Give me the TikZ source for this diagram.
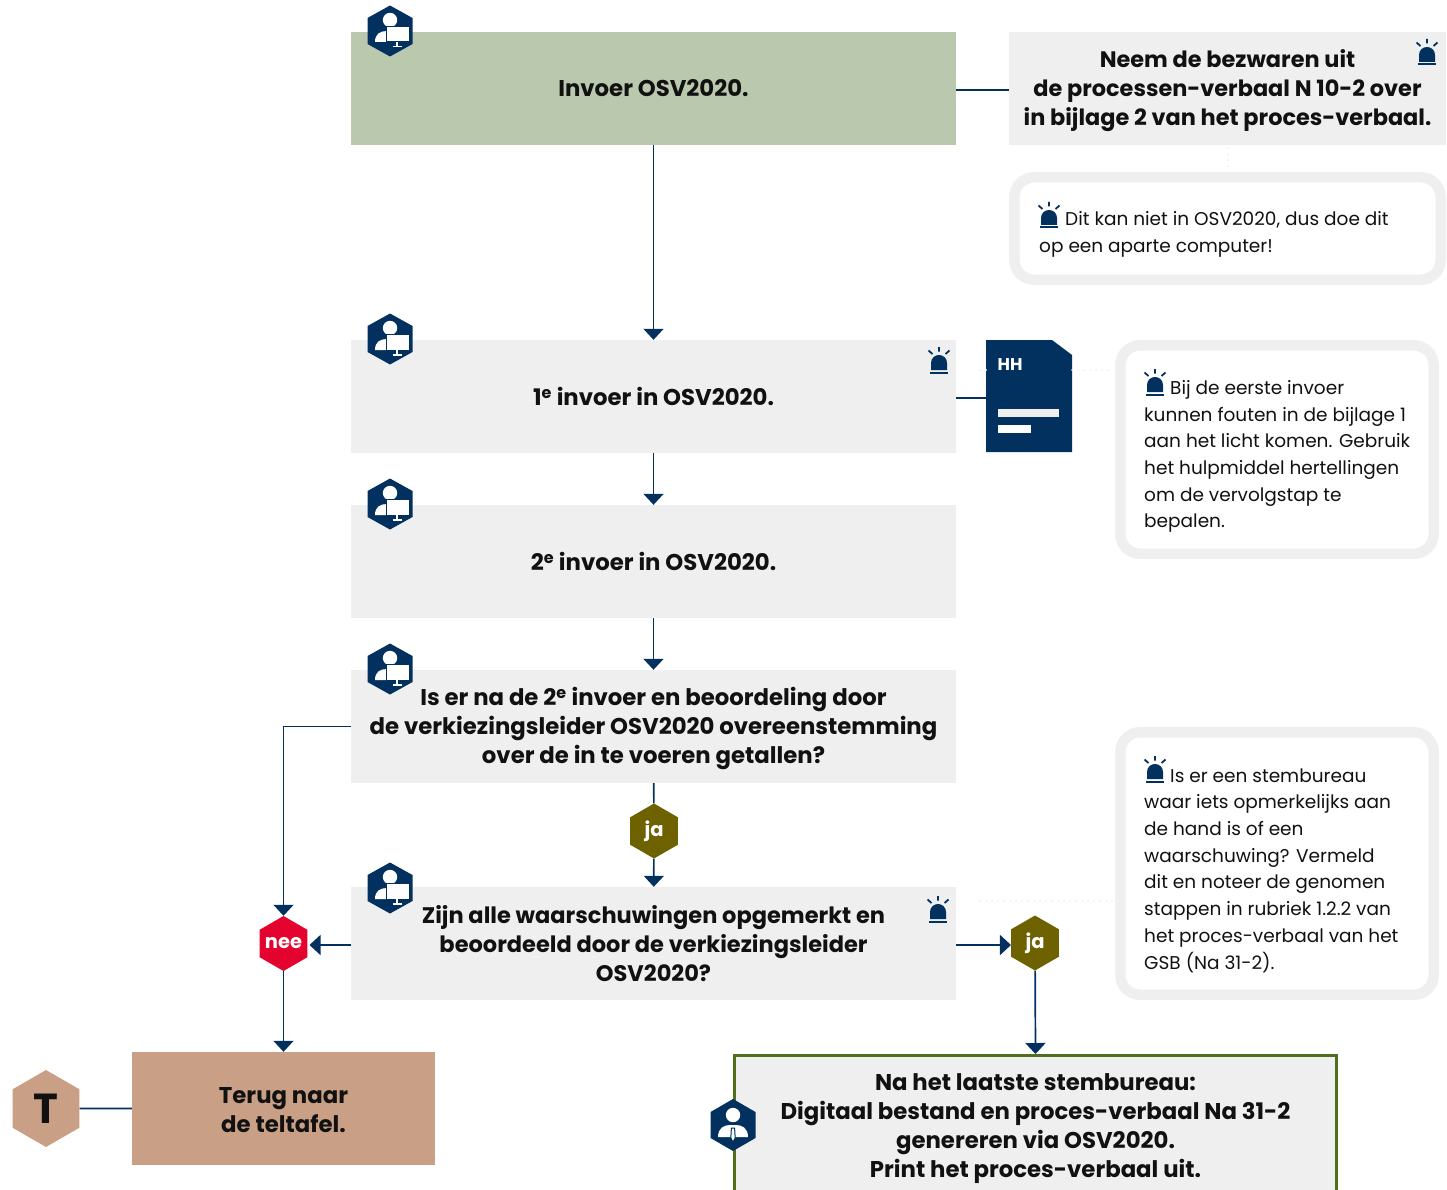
\documentclass[tikz,border=0pt]{standalone}
\usepackage{fontspec}
\usetikzlibrary{arrows.meta,shapes.geometric}
\setmainfont{Poppins}
\definecolor{navy}{HTML}{02315F}
\definecolor{panel}{HTML}{EFEFEF}
\definecolor{sage}{HTML}{BAC8AE}
\definecolor{tan}{HTML}{C99F85}
\definecolor{olive}{HTML}{6E6200}
\definecolor{redhex}{HTML}{E4032E}
\definecolor{greenedge}{HTML}{4F6F1F}
\definecolor{ink}{HTML}{111111}
\newcommand{\firstline}[1]{\rule{0pt}{#1pt}}
\tikzset{
 x=1pt,y=-1pt,
 flowbox/.style={rectangle,fill=panel,inner sep=0pt,minimum width=605pt,minimum height=113pt,align=center,text=ink,font=\fontsize{22.8}{29}\selectfont\bfseries},
 callout/.style={rectangle,draw=panel,fill=white,line width=10.5pt,rounded corners=20pt,inner sep=0pt},
 notetext/.style={anchor=west,align=left,inner sep=0pt,text=ink,font=\fontsize{18.5}{26.7}\selectfont},
 flow/.style={draw=navy,line width=1.7pt,-{Triangle[width=20pt,length=11pt]}},
 link/.style={draw=navy,line width=1.7pt},
 dots/.style={draw=panel,line width=2pt,line cap=round,dash pattern=on 0pt off 6pt},
 hex/.style={regular polygon,regular polygon sides=6,shape border rotate=30,inner sep=0pt,minimum size=55pt,text=white,font=\fontsize{19.5}{22}\selectfont\bfseries},
 personpc/.pic={
  \fill[navy] (0,-25.5)--(22.5,-13)--(22.5,13)--(0,25.5)--(-22.5,13)--(-22.5,-13)--cycle;
  \fill[white] (0,-11) circle (7.2);
  \fill[white] (-15,11) .. controls (-15,3) and (-10,0) .. (-3,0) -- (6,0) -- (6,11) -- cycle;
  \fill[white,draw=navy,line width=1pt] (-4,-4.5) rectangle (19,11);
  \fill[white] (6,11) rectangle (8,15);
  \fill[white] (3,15) rectangle (12,16.5);
 },
 manager/.pic={
  \fill[navy] (0,-26)--(22.5,-13)--(22.5,13)--(0,26)--(-22.5,13)--(-22.5,-13)--cycle;
  \fill[white] (0,-10) circle (7.2);
  \fill[white] (-15,12) .. controls (-15,3) and (-9,0) .. (-3,0) -- (3,0) .. controls (9,0) and (15,3) .. (15,12) -- cycle;
  \fill[white,draw=navy,line width=1pt] (-1.6,3) -- (1.6,3) -- (2.2,13) -- (0,17) -- (-2.2,13) -- cycle;
 },
 alarm/.pic={
  \fill[navy] (-8,9) -- (-8,2) .. controls (-8,-3) and (-4,-6) .. (0,-6) .. controls (4,-6) and (8,-3) .. (8,2) -- (8,9) -- cycle;
  \fill[navy] (-9,10.5) rectangle (9,12.5);
  \draw[navy,line width=1.8pt] (0,-14) -- (0,-9.5) (-10.5,-10.5) -- (-6.5,-7) (10.5,-10.5) -- (6.5,-7);
 },
}
\begin{document}
\begin{tikzpicture}
\clip (0,0) rectangle (1447,1190);
% process boxes
\node[flowbox,fill=sage] (invoer) at (653.5,88.5) {Invoer OSV2020.};
\node[flowbox,minimum width=437pt,font=\fontsize{22.4}{29}\selectfont\bfseries] (neem) at (1227.5,88.5) {\firstline{23}Neem de bezwaren uit\\de processen-verbaal N 10-2 over\\in bijlage 2 van het proces-verbaal.};
\node[flowbox] (eerste) at (653.5,396.5) {1\textsuperscript{e} invoer in OSV2020.};
\node[flowbox] (tweede) at (653.5,561.5) {2\textsuperscript{e} invoer in OSV2020.};
\node[flowbox] (iser) at (653.5,726.5) {\firstline{23}Is er na de 2\textsuperscript{e} invoer en beoordeling door\\de verkiezingsleider OSV2020 overeenstemming\\over de in te voeren getallen?};
\node[flowbox,font=\fontsize{22.5}{29}\selectfont\bfseries] (zijn) at (653.5,943.5) {Zijn alle waarschuwingen opgemerkt en\\beoordeeld door de verkiezingsleider\\OSV2020?};
\node[flowbox,fill=tan,minimum width=303pt] (terug) at (283.5,1108.5) {\firstline{19}Terug naar\\de teltafel.};
\node[flowbox,draw=greenedge,line width=3pt,minimum width=602pt,minimum height=140pt] (laatste) at (1035.5,1125.5) {\firstline{23}Na het laatste stembureau:\\Digitaal bestand en proces-verbaal Na 31-2\\genereren via OSV2020.\\Print het proces-verbaal uit.};
% document
\fill[navy] (986,340) -- (1052,340) -- (1072,355) -- (1072,452) -- (986,452) -- cycle;
\coordinate (docwest) at (986,398);
\fill[panel] (998,409) rectangle (1059,417);
\fill[white] (998,425) rectangle (1031,433);
\node[inner sep=0pt,text=white,font=\fontsize{17}{20}\selectfont\bfseries] (hh) at (1010,365) {HH};
% callouts
\node[callout,minimum width=426.5pt,minimum height=102.5pt] (note1) at (1227.5,228.5) {};
\node[callout,minimum width=313.5pt,minimum height=208.5pt] (note2) at (1277,449.5) {};
\node[callout,minimum width=313.5pt,minimum height=262.5pt] (note3) at (1277,863.5) {};
\node[notetext] (note1t) at (1039,234.5) {\hspace*{26pt}Dit kan niet in OSV2020, dus doe dit\\op een aparte computer!};
\node[notetext] (note2t) at (1144,456.5) {\hspace*{26pt}Bij de eerste invoer\\kunnen fouten in de bijlage 1\\aan het licht komen. Gebruik\\het hulpmiddel hertellingen\\om de vervolgstap te\\bepalen.};
\node[notetext] (note3t) at (1144,870.5) {\hspace*{26pt}Is er een stembureau\\waar iets opmerkelijks aan\\de hand is of een\\waarschuwing? Vermeld\\dit en noteer de genomen\\stappen in rubriek 1.2.2 van\\het proces-verbaal van het\\GSB (Na 31-2).};
% hexagons
\node[hex,fill=olive] (jaA) at (654,831) {\makebox[0pt]{ja}};
\node[hex,fill=olive] (jaB) at (1035,943) {\makebox[0pt]{ja}};
\node[hex,fill=redhex] (nee) at (283.5,943.5) {\makebox[0pt]{nee}};
\node[hex,fill=tan,minimum size=77pt,text=ink,font=\fontsize{42}{44}\selectfont\bfseries] (T) at (46,1108.5) {\makebox[0pt]{T}};
% connectors
\draw[flow] (invoer) -- (eerste);
\draw[link] (invoer.east |- 0,90) -- (neem.west |- 0,90);
\draw[link] (eerste.east |- docwest) -- (docwest);
\draw[flow] (eerste) -- (tweede);
\draw[flow] (tweede) -- (iser);
\draw[link] (iser) -- (jaA);
\draw[flow] (jaA) -- (zijn);
\draw[flow] (iser.west) -| (nee.north);
\draw[flow,shorten >=2pt] (zijn.west |- 0,945) -- (nee.east |- 0,945);
\draw[flow] (nee) -- (terug);
\draw[flow] (zijn.east |- 0,945) -- (jaB.west |- 0,945);
\draw[flow] (jaB) -- (laatste.north);
\draw[link] (T) -- (terug);
% faint dotted leaders
\draw[dots] (neem.south -| 1228,0) ++(0,3) -- (1228,170);
\draw[dots] (980,370) -- (986,370);
\draw[dots] (1072,370) -- (1113,370);
\draw[dots] (980,901) -- (1113,901);
% icons
\pic at (390,31) {personpc};
\pic at (390,339) {personpc};
\pic at (390,504) {personpc};
\pic at (390,669) {personpc};
\pic at (390,888) {personpc};
\pic at (733,1125) {manager};
\pic at (939,361) {alarm};
\pic at (1427,53) {alarm};
\pic at (938,910) {alarm};
\pic at (1049,216) {alarm};
\pic at (1155,383) {alarm};
\pic at (1155,770) {alarm};
\end{tikzpicture}
\end{document}
